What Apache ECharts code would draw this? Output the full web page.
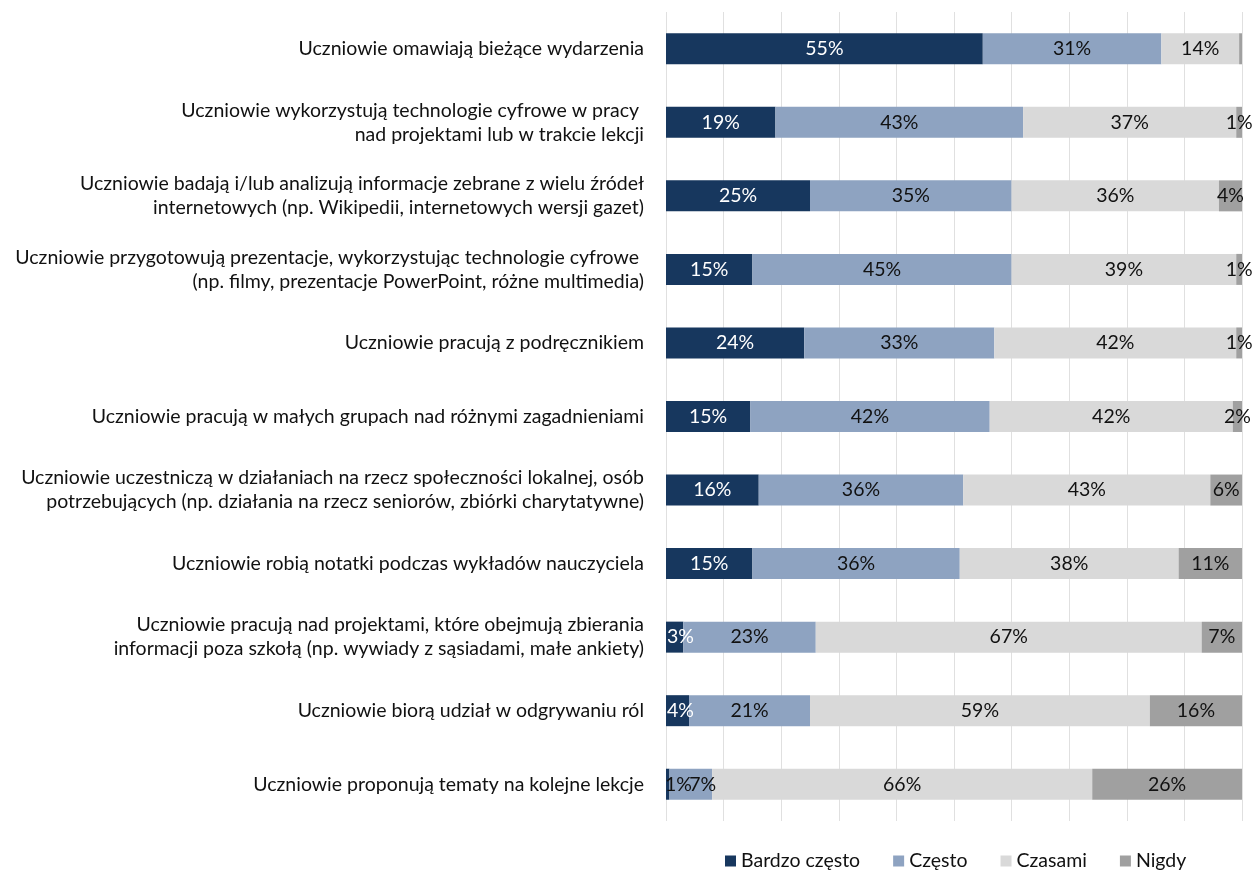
<!DOCTYPE html>
<html>
<head>
<meta charset="utf-8">
<script src="https://cdn.jsdelivr.net/npm/echarts@6/dist/echarts.min.js"></script>
<style>
html,body{margin:0;padding:0;background:#fff;}
#c{width:1257px;height:871px;}
</style>
</head>
<body>
<div id="c"></div>
<script>
const categories = [
  "Uczniowie omawiają bieżące wydarzenia",
  "Uczniowie wykorzystują technologie cyfrowe w pracy \nnad projektami lub w trakcie lekcji",
  "Uczniowie badają i/lub analizują informacje zebrane z wielu źródeł\ninternetowych (np. Wikipedii, internetowych wersji gazet)",
  "Uczniowie przygotowują prezentacje, wykorzystując technologie cyfrowe \n(np. filmy, prezentacje PowerPoint, różne multimedia)",
  "Uczniowie pracują z podręcznikiem",
  "Uczniowie pracują w małych grupach nad różnymi zagadnieniami",
  "Uczniowie uczestniczą w działaniach na rzecz społeczności lokalnej, osób\npotrzebujących (np. działania na rzecz seniorów, zbiórki charytatywne)",
  "Uczniowie robią notatki podczas wykładów nauczyciela",
  "Uczniowie pracują nad projektami, które obejmują zbierania\ninformacji poza szkołą (np. wywiady z sąsiadami, małe ankiety)",
  "Uczniowie biorą udział w odgrywaniu ról",
  "Uczniowie proponują tematy na kolejne lekcje"
];
const seriesNames = ["Bardzo często", "Często", "Czasami", "Nigdy"];
const bardzoCzesto = [55, 19, 25, 15, 24, 14.6, 16.1, 15, 3, 4, 0.6];
const czesto       = [31, 43, 35, 45, 33, 41.6, 35.5, 36, 23, 21, 7.4];
const czasami      = [13.5, 37, 36, 39, 42, 42.2, 42.9, 38, 67, 59, 66];
const nigdy        = [0.5, 1, 4, 1, 1, 1.6, 5.5, 11, 7, 16, 26];

const colors = ["#17375e", "#8ea3c1", "#d9d9d9", "#a0a0a0"];
const labelColors = ["#ffffff", "#111111", "#111111", "#111111"];
const FONT = "Lato";
const FS = 19.5;

const chart = echarts.init(document.getElementById('c'));
const dataSets = [bardzoCzesto, czesto, czasami, nigdy];

function buildData(i) {
  return dataSets[i].map((v, k) => {
    if (i === 0 && v < 5) {
      // small first segment: label kept inside the plot, starting at its left edge
      return {
        value: v,
        label: { position: 'insideLeft', distance: v < 1 ? -1 : 1, color: v < 1 ? '#111111' : '#ffffff' }
      };
    }
    if (i === 1 && dataSets[0][k] < 1 && v < 10) {
      // narrow segment next to a label that spills over: push label past its right end
      return { value: v, label: { position: 'insideRight', distance: -4 } };
    }
    return v;
  });
}

chart.setOption({
  animation: false,
  textStyle: { fontFamily: FONT },
  grid: { left: 666, right: 15, top: 12, bottom: 50, containLabel: false },
  legend: {
    top: 846,
    left: 720,
    icon: 'rect',
    itemWidth: 11,
    itemHeight: 11,
    itemGap: 33,
    textStyle: { fontFamily: FONT, fontSize: FS, color: '#111111' },
    data: seriesNames
  },
  xAxis: {
    type: 'value',
    min: 0, max: 100, interval: 10,
    axisLabel: { show: false },
    axisLine: { show: false },
    axisTick: { show: false },
    splitLine: { show: true, lineStyle: { color: '#e0e0e0', width: 1 } }
  },
  yAxis: {
    type: 'category',
    inverse: true,
    data: categories,
    axisLine: { show: false },
    axisTick: { show: false },
    axisLabel: {
      fontFamily: FONT, fontSize: FS, color: '#111111',
      margin: 22, align: 'right', lineHeight: 24
    }
  },
  series: seriesNames.map((name, i) => ({
    name: name,
    type: 'bar',
    stack: 'total',
    barWidth: 31,
    itemStyle: { color: colors[i] },
    label: {
      show: true,
      position: 'inside',
      fontFamily: FONT,
      fontSize: FS,
      color: labelColors[i],
      formatter: p => p.value >= 0.55 ? Math.round(p.value) + '%' : ''
    },
    labelLayout: { hideOverlap: false },
    data: buildData(i)
  }))
});
</script>
</body>
</html>
